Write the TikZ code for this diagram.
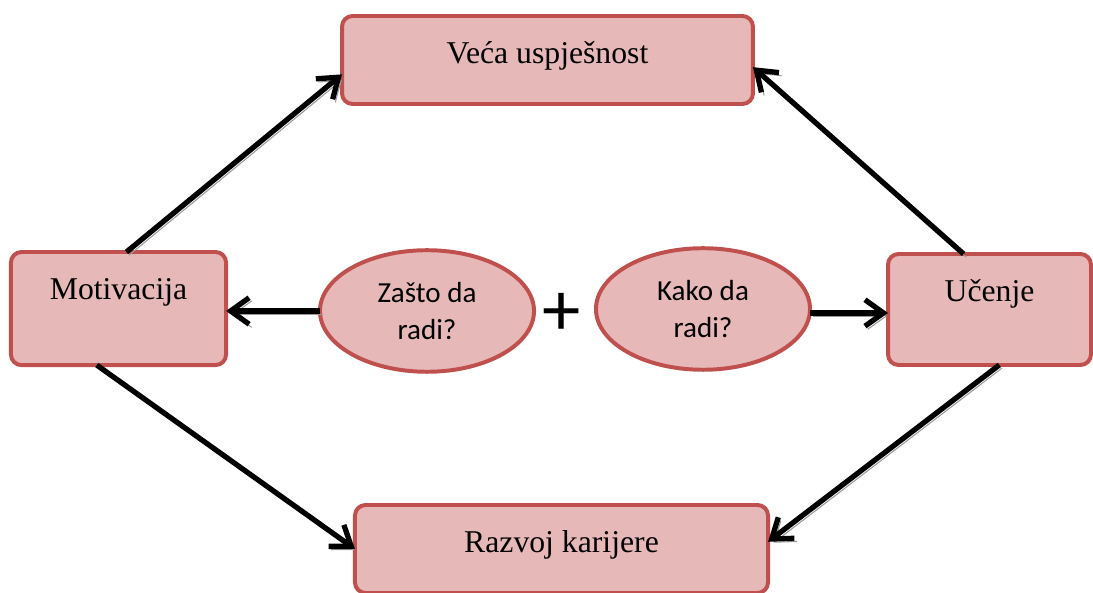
\documentclass[tikz,border=0pt]{standalone}
\usepackage{fontspec}
\setmainfont{Liberation Serif}
\newfontfamily\calibfont{Carlito}
\usepackage{tikz}
\usetikzlibrary{arrows.meta,shapes.geometric}
\usepackage{xcolor}

\definecolor{boxfill}{HTML}{E6B8B7}
\definecolor{boxline}{HTML}{C0504D}

\tikzset{
  box/.style={draw=boxline, fill=boxfill, line width=1.5pt, rounded corners=4pt,
    anchor=north, inner sep=0pt, outer sep=0pt, text height=17.8pt,
    font=\fontsize{12}{14}\selectfont},
  oval/.style={ellipse, draw=boxline, fill=boxfill, line width=1.5pt, inner sep=0pt,
    outer sep=0pt, minimum width=81pt, minimum height=46pt, align=center,
    font=\calibfont\fontsize{11}{14}\selectfont},
  arr/.style={-{Straight Barb[length=7pt,width=10pt]}, line width=2pt,
    preaction={draw=black!40, transform canvas={shift={(1pt,-1.2pt)}}}}
}

\begin{document}
\begin{tikzpicture}[x=0.3784pt, y=-0.3784pt]
\useasboundingbox (0,0) rectangle (1093,593);

% outer boxes
\node[box, minimum width=155.5pt, text depth=15.5pt] (succ) at (547.5,16) {Veća uspješnost};
\node[box, minimum width=81.4pt, text depth=25pt] (moti) at (118.5,252) {Motivacija};
\node[box, minimum width=76.8pt, text depth=24.2pt] (uc) at (989.5,254) {Učenje};
\node[box, minimum width=156.3pt, text depth=15.5pt] (razv) at (561.5,505) {Razvoj karijere};

% the two questions
\node[oval] (zasto) at (427,311) {Zašto da\\radi?};
\node[oval] (kako) at (703,309) {Kako da\\radi?};
\node[font=\calibfont\fontsize{29}{29}\selectfont] (plus) at (562,314) {+};

% arrows up and down
\draw[arr] (moti.82) -- (succ.184);
\draw[arr] (uc.115) -- (succ.358);
\draw[arr] (moti.249) -- (razv.west);
\draw[arr] (uc.280) -- (razv.2.5);
% arrows from the questions
\draw[arr] (zasto.west) -- (zasto.west -| moti.east);
\draw[arr] ([yshift=-1.5pt]kako.east) -- ([yshift=-1.5pt]kako.east -| uc.west);

\end{tikzpicture}
\end{document}
